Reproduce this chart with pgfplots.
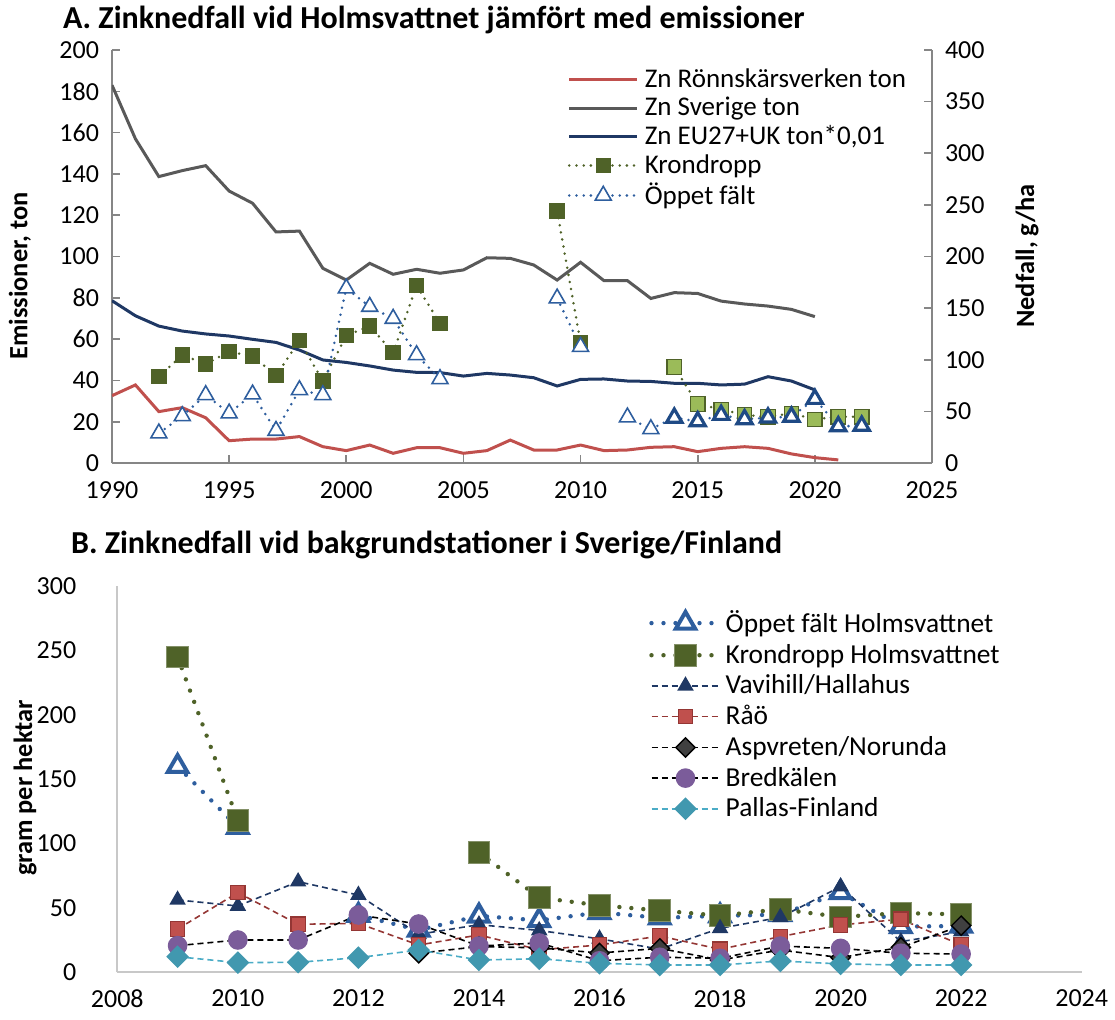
\documentclass[border=0pt]{standalone}
\usepackage{fontspec}
\setmainfont{Carlito}
\usepackage{pgfplots}
\pgfplotsset{compat=1.18}

\definecolor{cRed}{HTML}{C0504D}
\definecolor{cGray}{HTML}{595959}
\definecolor{cNavy}{HTML}{1F3864}
\definecolor{cOlive}{HTML}{4F6228}
\definecolor{cLight}{HTML}{9BBB59}
\definecolor{cBlue}{HTML}{2E5E9E}
\definecolor{cBlueD}{HTML}{1F4A85}
\definecolor{cRaoL}{HTML}{943634}
\definecolor{cPurple}{HTML}{7B5C9A}
\definecolor{cTeal}{HTML}{4198AF}
\definecolor{cTealL}{HTML}{4BACC6}
\definecolor{cDia}{HTML}{404040}
\definecolor{cSpine}{HTML}{868686}
\definecolor{cSpineL}{HTML}{C8C8C8}

\pgfplotsset{
  /pgf/number format/assume math mode=true,
  /pgf/number format/1000 sep={},
  every axis/.append style={font=\fontsize{13}{15}\selectfont},
  dots/.style={dash pattern=on 0pt off #1, line cap=round},
  longleg/.style={legend image code/.code={%
    \draw[mark repeat=2,mark phase=2,##1] plot coordinates {(0pt,0pt)(17pt,0pt)(34pt,0pt)};}},
}

\begin{document}
\begin{tikzpicture}
\path[use as bounding box] (0pt,0pt) rectangle (557.5pt,-509.5pt);

% ---------- A: left axis (emissions, ton)
\begin{axis}[
  at={(56pt,-231.5pt)}, anchor=south west,
  width=410pt, height=206.5pt, scale only axis,
  xmin=1990, xmax=2025, ymin=0, ymax=200,
  xtick={1990,1995,...,2025}, ytick={0,20,...,200},
  axis x line*=bottom, axis y line*=left,
  axis line style={cSpine, line width=0.8pt},
  tick style={cSpine, line width=0.8pt}, major tick length=4pt,
  tick align=inside,
  yticklabel style={xshift=-3pt},
  xticklabel style={yshift=-6pt},
  unbounded coords=jump,
]
\addplot[cRed, line width=1.5pt, mark=none] coordinates {
(1990,32.6)(1991,37.8)(1992,24.9)(1993,26.8)(1994,21.9)(1995,10.8)(1996,11.6)(1997,11.6)
(1998,12.8)(1999,7.9)(2000,6.0)(2001,8.7)(2002,4.7)(2003,7.4)(2004,7.4)(2005,4.7)(2006,6.0)
(2007,11.1)(2008,6.3)(2009,6.3)(2010,8.7)(2011,6.0)(2012,6.3)(2013,7.6)(2014,7.9)(2015,5.5)
(2016,7.1)(2017,7.9)(2018,7.1)(2019,4.4)(2020,2.6)(2021,1.5)};
\addplot[cGray, line width=1.5pt, mark=none] coordinates {
(1990,183)(1991,157)(1992,138.7)(1993,141.6)(1994,144)(1995,131.7)(1996,125.8)(1997,111.9)
(1998,112.3)(1999,94.3)(2000,88.6)(2001,96.7)(2002,91.4)(2003,93.8)(2004,91.9)(2005,93.5)
(2006,99.4)(2007,99.1)(2008,95.9)(2009,88.6)(2010,97.2)(2011,88.3)(2012,88.3)(2013,79.7)
(2014,82.5)(2015,82.1)(2016,78.4)(2017,77)(2018,76)(2019,74.4)(2020,70.9)};
\addplot[cNavy, line width=1.5pt, mark=none] coordinates {
(1990,78.6)(1991,71.3)(1992,66.3)(1993,63.9)(1994,62.5)(1995,61.5)(1996,59.9)(1997,58.4)
(1998,54.7)(1999,49.9)(2000,48.7)(2001,47.0)(2002,45.0)(2003,43.9)(2004,43.8)(2005,42.1)
(2006,43.4)(2007,42.6)(2008,41.3)(2009,37.3)(2010,40.5)(2011,40.7)(2012,39.7)(2013,39.5)
(2014,38.6)(2015,38.6)(2016,37.8)(2017,38.2)(2018,41.8)(2019,39.7)(2020,35.4)};
\end{axis}

% ---------- A: right axis (deposition, g/ha)
\begin{axis}[
  at={(56pt,-231.5pt)}, anchor=south west,
  width=410pt, height=206.5pt, scale only axis,
  xmin=1990, xmax=2025, ymin=0, ymax=400,
  ytick={0,50,...,400},
  axis x line=none, axis y line*=right,
  axis line style={cSpine, line width=0.8pt},
  tick style={cSpine, line width=0.8pt}, major tick length=4pt,
  tick align=inside,
  yticklabel style={xshift=3pt},
  unbounded coords=jump,
  longleg,
  legend style={draw=none, fill=none, at={(0.548,0.975)}, anchor=north west,
    font=\fontsize{13.5}{14.5}\selectfont, row sep=-0.6pt,
    /tikz/every odd column/.append style={column sep=1pt}},
  legend cell align=left,
]
\addlegendimage{cRed, line width=1.5pt}
\addlegendentry{Zn Rönnskärsverken ton}
\addlegendimage{cGray, line width=1.5pt}
\addlegendentry{Zn Sverige ton}
\addlegendimage{cNavy, line width=1.5pt}
\addlegendentry{Zn EU27+UK ton*0,01}
\addplot[cOlive, line width=1.4pt, dots=3.6pt, mark=square*,
  mark options={solid, fill=cOlive, draw=cOlive, line width=0.5pt}, mark size=3.6pt] coordinates {
(1992,83.6)(1993,104.6)(1994,95.9)(1995,107.8)(1996,103.6)(1997,84.6)(1998,118.5)(1999,79.4)
(2000,123.3)(2001,132.7)(2002,106.8)(2003,171.7)(2004,135.3)(2005,nan)(2009,244)(2010,116.5)};
\addlegendentry{Krondropp}
\addplot[forget plot, cOlive, line width=1.4pt, dots=3.6pt, mark=square*,
  mark options={solid, fill=cLight, draw=cOlive, line width=0.6pt}, mark size=3.6pt] coordinates {
(2014,93)(2015,57.1)(2016,52)(2017,46.5)(2018,44.8)(2019,48.1)(2020,42.3)(2021,44.8)(2022,44.8)};
\addplot[cBlue, line width=1.4pt, dots=3.6pt, mark=triangle*,
  mark options={solid, fill=white, draw=cBlue, line width=0.8pt}, mark size=4.6pt] coordinates {
(1992,28.8)(1993,45.5)(1994,65.9)(1995,48.1)(1996,66.5)(1997,31.3)(1998,70.7)(1999,65.9)
(2000,169.2)(2001,151.4)(2002,139.8)(2003,104.6)(2004,81.4)(2005,nan)(2009,159.5)(2010,112.6)
(2011,nan)(2012,44.3)(2013,32.9)};
\addlegendentry{Öppet fält}
\addplot[forget plot, cBlue, line width=1.4pt, dots=3.6pt, mark=none] coordinates {(2013,32.9)(2014,43.8)};
\addplot[forget plot, cBlue, line width=1.4pt, dots=3.6pt, mark=triangle*,
  mark options={solid, fill=white, draw=cBlueD, line width=1.6pt}, mark size=4.4pt] coordinates {
(2014,43.8)(2015,40.3)(2016,46.5)(2017,42.3)(2018,43.9)(2019,44.8)(2020,62)(2021,35.5)(2022,36)};
\end{axis}

\node[font=\fontsize{16}{18}\bfseries\selectfont, anchor=west] at (28pt,-10pt) {A. Zinknedfall vid Holmsvattnet jämfört med emissioner};
\node[font=\fontsize{13.2}{15}\bfseries\selectfont, rotate=90] at (10pt,-138pt) {Emissioner, ton};
\node[font=\fontsize{13.2}{15}\bfseries\selectfont, rotate=90] at (513.5pt,-128pt) {Nedfall, g/ha};

% ---------- B
\begin{axis}[
  at={(58.65pt,-486.15pt)}, anchor=south west,
  width=482.2pt, height=193.15pt, scale only axis,
  xmin=2008, xmax=2024, ymin=0, ymax=300,
  xtick={2008,2010,...,2024}, ytick={0,50,...,300},
  axis x line*=bottom, axis y line*=left,
  axis line style={cSpineL, line width=0.9pt},
  major tick length=0pt,
  yticklabel style={xshift=-17pt},
  xticklabel style={yshift=-5pt},
  unbounded coords=jump,
  longleg,
  legend style={draw=none, fill=none, at={(0.545,0.958)}, anchor=north west,
    font=\fontsize{13.7}{15.5}\selectfont, row sep=0.3pt,
    /tikz/every odd column/.append style={column sep=0pt}},
  legend cell align=left,
]
\addplot[cBlue, line width=2.2pt, dots=6pt, mark=triangle*,
  mark options={solid, fill=white, draw=cBlue, line width=2pt}, mark size=5.6pt] coordinates {
(2009,160)(2010,112.6)(2011,nan)(2012,44.3)(2013,32.9)(2014,43.8)(2015,40.3)(2016,46.5)
(2017,42.3)(2018,43.9)(2019,44.8)(2020,62)(2021,35.5)(2022,36)};
\addlegendentry{Öppet fält Holmsvattnet}
\addplot[cOlive, line width=2.2pt, dots=6pt, mark=square*,
  mark options={solid, fill=cOlive, draw=cOlive!70!white, line width=0.5pt}, mark size=5.4pt] coordinates {
(2009,245)(2010,118)(2011,nan)(2014,93)(2015,58)(2016,52)(2017,48)(2018,44)(2019,49)
(2020,43)(2021,46)(2022,45)};
\addlegendentry{Krondropp Holmsvattnet}
\addplot[cNavy, line width=0.8pt, dash pattern=on 3pt off 2pt, mark=triangle*,
  mark options={solid, fill=cNavy, draw=cNavy}, mark size=4pt] coordinates {
(2009,56.2)(2010,51.5)(2011,70.4)(2012,60)(2013,29.5)(2014,37)(2015,32.5)(2016,26)
(2017,18)(2018,34.2)(2019,42.7)(2020,66.5)(2021,23.8)(2022,31.6)};
\addlegendentry{Vavihill/Hallahus}
\addplot[cRaoL, line width=0.8pt, dash pattern=on 3pt off 2pt, mark=square*,
  mark options={solid, fill=cRed, draw=cRaoL, line width=0.6pt}, mark size=3.6pt] coordinates {
(2009,33.6)(2010,61.9)(2011,37.3)(2012,38)(2013,21.2)(2014,29)(2015,17.5)(2016,21.2)
(2017,28.2)(2018,17.9)(2019,27.7)(2020,36.8)(2021,41.2)(2022,21.2)};
\addlegendentry{Råö}
\addplot[black, line width=0.8pt, dash pattern=on 3pt off 2pt, mark=square*,
  mark options={solid, rotate=45, fill=cDia, draw=black, line width=0.7pt}, mark size=3.4pt] coordinates {
(2013,14.8)(2014,20)(2015,19)(2016,15)(2017,18.6)(2018,9.6)(2019,17.3)(2020,11.4)(2021,19.4)(2022,36.2)};
\addlegendentry{Aspvreten/Norunda}
\addplot[black, line width=0.8pt, dash pattern=on 3pt off 2pt, mark=*,
  mark options={solid, fill=cPurple, draw=cPurple}, mark size=4.5pt] coordinates {
(2009,20.7)(2010,25.1)(2011,25.1)(2012,44.5)(2013,37.5)(2014,20.4)(2015,22.8)(2016,9)
(2017,11.7)(2018,10.9)(2019,20.4)(2020,18.6)(2021,14.8)(2022,14.2)};
\addlegendentry{Bredkälen}
\addplot[cTealL, line width=0.8pt, dash pattern=on 3pt off 2pt, mark=square*,
  mark options={solid, rotate=45, fill=cTeal, draw=cTeal}, mark size=3.6pt] coordinates {
(2009,12.1)(2010,7.5)(2011,7.8)(2012,11.4)(2013,17.3)(2014,9.6)(2015,10.5)(2016,7)
(2017,5.7)(2018,5.7)(2019,8.8)(2020,6.5)(2021,5.7)(2022,5.7)};
\addlegendentry{Pallas-Finland}
\end{axis}

\node[font=\fontsize{16}{18}\bfseries\selectfont, anchor=west] at (32pt,-272.5pt) {B. Zinknedfall vid bakgrundstationer i Sverige/Finland};
\node[font=\fontsize{13.2}{15}\bfseries\selectfont, rotate=90] at (12.5pt,-394pt) {gram per hektar};
\end{tikzpicture}
\end{document}
